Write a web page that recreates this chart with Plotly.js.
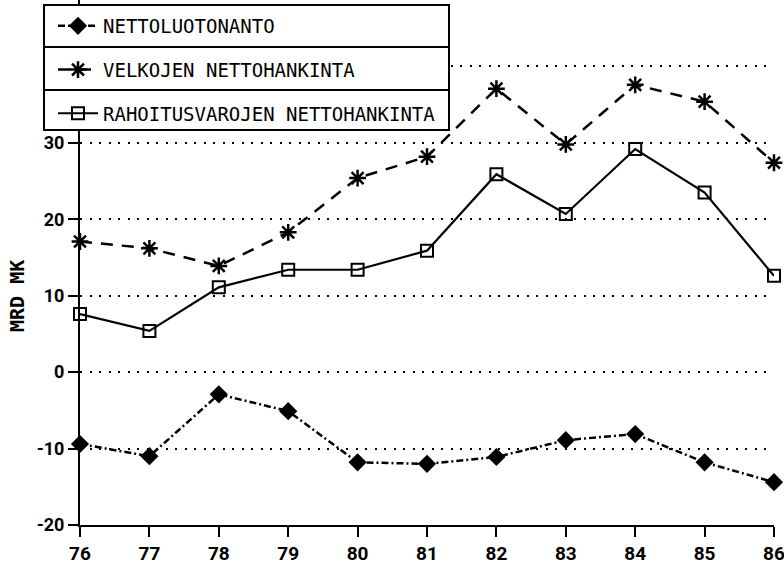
<!DOCTYPE html>
<html><head><meta charset="utf-8">
<script src="https://cdn.plot.ly/plotly-3.0.1.min.js"></script>
<style>html,body{margin:0;padding:0;background:#fff}#chart{width:784px;height:567px}</style>
</head><body><div id="chart"></div>
<script>
const years = [76, 77, 78, 79, 80, 81, 82, 83, 84, 85, 86];
const tickLabels = ['76','77','78','79','80','81','82','83','84','85','86'];
const nettoluotonanto = [-9.4, -11.0, -2.9, -5.1, -11.8, -12.0, -11.1, -8.9, -8.1, -11.8, -14.4];
const velkojen = [17.1, 16.2, 13.9, 18.3, 25.4, 28.2, 37.1, 29.8, 37.6, 35.4, 27.4];
const rahoitus = [7.6, 5.4, 11.1, 13.4, 13.4, 15.9, 25.9, 20.7, 29.2, 23.5, 12.6];
const names = ['NETTOLUOTONANTO', 'VELKOJEN NETTOHANKINTA', 'RAHOITUSVAROJEN NETTOHANKINTA'];
const yTicks = [-20, -10, 0, 10, 20, 30, 40];

const tickFont = {family: "Roboto, 'DejaVu Sans', sans-serif", size: 18, color: '#000', weight: 'bold'};
const xTickFont = {family: "Roboto, 'DejaVu Sans', sans-serif", size: 19, color: '#000', weight: 'bold'};
const legFont = {family: "'DejaVu Sans Mono', monospace", size: 19, color: '#000'};

const traces = [
  {x: years, y: nettoluotonanto, name: names[0], mode: 'lines+markers', legendgroup: 'a',
   line: {color: '#000', width: 2.5, dash: '7px,3px,2px,3px'},
   marker: {symbol: 'diamond', size: 14, color: '#000'}, cliponaxis: false},
  {x: years, y: velkojen, name: names[1], mode: 'lines+markers', legendgroup: 'b',
   line: {color: '#000', width: 2.5, dash: '12px,9px'},
   marker: {symbol: 'asterisk-open', size: 14, color: '#000', line: {color: '#000', width: 2.5}}, cliponaxis: false},
  {x: years, y: rahoitus, name: names[2], mode: 'lines+markers', legendgroup: 'c',
   line: {color: '#000', width: 2.2},
   marker: {symbol: 'square-open', size: 12, color: '#000', line: {color: '#000', width: 2}}, cliponaxis: false}
];

const L = 80, W = 694, H = 525;
const px = v => (v - L) / W;
const py = v => (H - v) / H;

const layout = {
  width: 784, height: 567,
  margin: {l: L, r: 784 - L - W, t: 0, b: 567 - H},
  paper_bgcolor: '#fff', plot_bgcolor: '#fff',
  showlegend: true,
  legend: {x: px(53), y: py(7), xanchor: 'left', yanchor: 'top', bgcolor: 'rgba(0,0,0,0)',
           borderwidth: 0, font: legFont, tracegroupgap: 16, itemwidth: 40, traceorder: 'grouped'},
  xaxis: {range: [76, 86], tickvals: years, ticktext: tickLabels, showgrid: false, zeroline: false,
          showline: true, linecolor: '#000', linewidth: 2, ticks: 'outside', ticklen: 10, tickwidth: 2,
          tickcolor: '#000', tickfont: xTickFont, ticklabeloverflow: 'allow', fixedrange: true},
  yaxis: {range: [-20, 48.7], tickvals: yTicks, ticktext: yTicks.map(String), showgrid: true,
          gridcolor: '#000', gridwidth: 2, griddash: '2px,7.5px', zeroline: false,
          showline: true, linecolor: '#000', linewidth: 2, ticks: 'outside', ticklen: 10, tickwidth: 2,
          tickcolor: '#000', tickfont: tickFont, fixedrange: true},
  shapes: [
    {type: 'rect', xref: 'paper', yref: 'paper', x0: px(44), x1: px(449), y0: py(130), y1: py(5),
     fillcolor: '#fff', line: {color: '#000', width: 2}, layer: 'above'},
    {type: 'line', xref: 'paper', yref: 'paper', x0: px(44), x1: px(449), y0: py(47), y1: py(47),
     line: {color: '#000', width: 2}, layer: 'above'},
    {type: 'line', xref: 'paper', yref: 'paper', x0: px(44), x1: px(449), y0: py(90), y1: py(90),
     line: {color: '#000', width: 2}, layer: 'above'}
  ],
  annotations: [
    {text: 'MRD MK', xref: 'paper', yref: 'paper', x: px(17), y: py(296), textangle: -90,
     xanchor: 'center', yanchor: 'middle', showarrow: false,
     font: {family: "'DejaVu Sans Mono', monospace", size: 20, color: '#000', weight: 'bold'}}
  ]
};
Plotly.newPlot('chart', traces, layout, {staticPlot: true, displayModeBar: false});
</script></body></html>
